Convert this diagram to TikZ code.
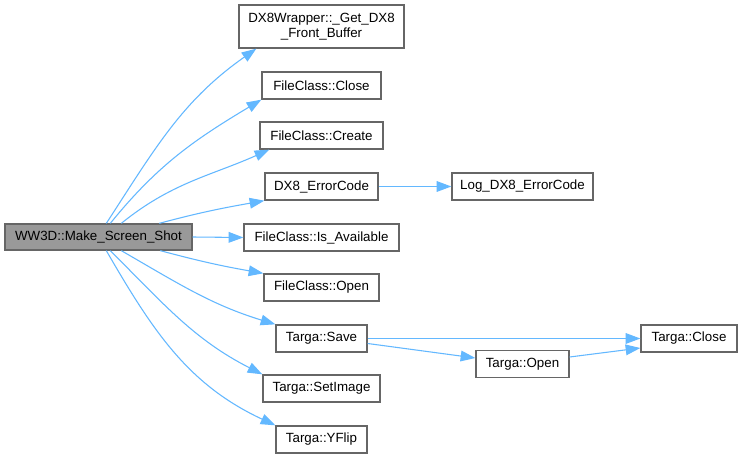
\documentclass[tikz,border=0pt]{standalone}
\usepackage{fontspec}
\setmainfont{Liberation Sans}
\usetikzlibrary{arrows.meta,calc}
\definecolor{paper}{HTML}{FFFFFF}
\definecolor{fnEdge}{HTML}{666666}
\definecolor{rootFill}{HTML}{999999}
\definecolor{callBlue}{HTML}{63B8FF}

\begin{document}
\begin{tikzpicture}[x=0.75pt, y=-0.75pt, font=\fontsize{10}{11.5}\selectfont,
    fn/.style={draw=fnEdge, fill=white, line width=1pt, minimum height=20.25pt, inner sep=1pt, align=center},
    root/.style={fn, fill=rootFill, minimum height=19.5pt},
    call/.style={-{Triangle[length=11pt,width=8pt]}, line width=0.8pt, draw=callBlue}]

  % canvas (pixel units, y down)
  \fill[paper] (0,0) rectangle (742,459);

  % ---------------- caller
  \node[root, minimum width=140.25pt] (main) at (98.5,237) {WW3D::Make\_Screen\_Shot};

  % ---------------- direct callees
  \node[fn, minimum width=123.75pt, minimum height=32.25pt] (dxw) at (321.5,26.5) {DX8Wrapper::\_Get\_DX8\\\_Front\_Buffer};
  \node[fn, minimum width=89.25pt] (fclose)  at (321.5,85.5)  {FileClass::Close};
  \node[fn, minimum width=92.25pt] (fcreate) at (321.5,135.5) {FileClass::Create};
  \node[fn, minimum width=84.75pt] (err)     at (321.5,186.5) {DX8\_ErrorCode};
  \node[fn, minimum width=116.25pt] (avail)  at (321.5,237.5) {FileClass::Is\_Available};
  \node[fn, minimum width=86.25pt] (fopen)   at (321.5,287.5) {FileClass::Open};
  \node[fn, minimum width=68.25pt] (save)    at (321.5,338.5) {Targa::Save};
  \node[fn, minimum width=87.75pt] (setimg)  at (321.5,388.5) {Targa::SetImage};
  \node[fn, minimum width=68.25pt] (yflip)   at (321.5,439.5) {Targa::YFlip};

  % ---------------- second level
  \node[fn, minimum width=105.75pt] (log)  at (522.5,186.5) {Log\_DX8\_ErrorCode};
  \node[fn, minimum width=69.75pt] (topen) at (522.5,364)   {Targa::Open};
  \node[fn, minimum width=72pt] (tclose)   at (689,338.5)   {Targa::Close};

  % ---------------- calls from the root
  \draw[call] ($(main.north west)+(102,0)$) to[out=57, in=215] ($(dxw.south west)+(18,0)$);
  \draw[call] ($(main.north west)+(106,0)$) to[out=51, in=211] (fclose.south west);
  \draw[call] ($(main.north west)+(117,0)$) to[out=39, in=204] ($(fcreate.south west)+(10,0)$);
  \draw[call] ($(main.north west)+(155,0)$) to[out=15, in=190] (err.south west);
  \draw[call] (main.east) -- (avail.west);
  \draw[call] ($(main.south west)+(156,0)$) to[out=-15, in=170] (fopen.north west);
  \draw[call] ($(main.south west)+(117,0)$) to[out=-30, in=163] (save.north west);
  \draw[call] ($(main.south west)+(106,0)$) to[out=-45, in=153] (setimg.north west);
  \draw[call] ($(main.south west)+(102,0)$) to[out=-60, in=155] (yflip.north west);

  % ---------------- deeper calls
  \draw[call] (err.east) -- (log.west);
  \draw[call] (save.east) -- (tclose.west);
  \draw[call] ($(save.east)+(0,5)$) -- ($(topen.west)+(0,-6)$);
  \draw[call] ($(topen.east)+(0,-7)$) -- ($(tclose.west)+(0,9.5)$);
\end{tikzpicture}
\end{document}
